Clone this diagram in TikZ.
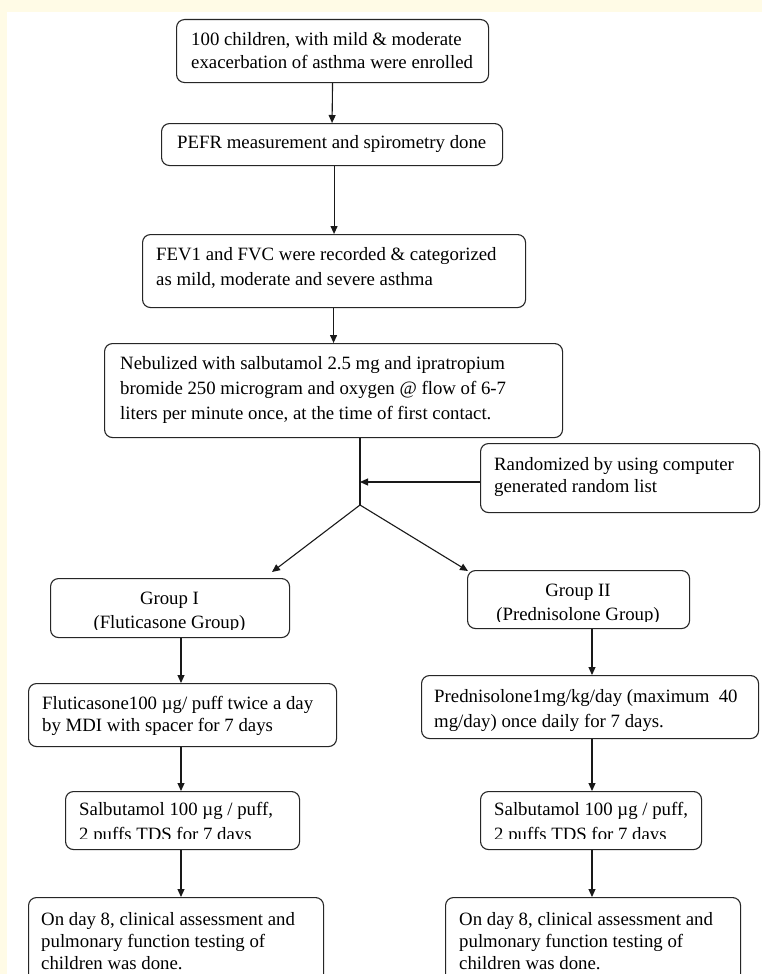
\documentclass[tikz,border=0pt]{standalone}
\usepackage{fontspec}
\setmainfont{Liberation Serif}
\usetikzlibrary{arrows.meta}
\definecolor{cream}{HTML}{FFFBE6}
\newcommand\fsz[1]{\fontsize{18.8pt}{#1pt}\selectfont}
\begin{document}
\begin{tikzpicture}[x=1pt,y=-1pt,
  boxst/.style={draw=black!85, line width=1.1pt, rounded corners=8pt, inner sep=0pt, anchor=north west},
  txt/.style={inner sep=0pt, align=left, anchor=west, text=black},
  ctxt/.style={inner sep=0pt, align=center, anchor=center, text=black},
  conn/.style={line width=1.1pt, draw=black!90, -{Triangle[length=8pt,width=7pt]}},
  plainln/.style={line width=1.1pt, draw=black!90}]
% background
\fill[cream] (0,0) rectangle (762,974);
\fill[white] (7,12) rectangle (762,974);
\useasboundingbox (0,0) rectangle (762,974);

% boxes
\node[boxst, minimum width=312pt, minimum height=63pt] (b1) at (176,19) {};
\node[boxst, minimum width=341pt, minimum height=42pt] (b2) at (161,123) {};
\node[boxst, minimum width=383pt, minimum height=73pt] (b3) at (142,234) {};
\node[boxst, minimum width=458pt, minimum height=94pt] (b4) at (104,343) {};
\node[boxst, minimum width=279pt, minimum height=69pt] (b5) at (480,443) {};
\node[boxst, minimum width=239pt, minimum height=59pt] (g1) at (50,578) {};
\node[boxst, minimum width=222pt, minimum height=58pt] (g2) at (467,570) {};
\node[boxst, minimum width=308pt, minimum height=63pt] (f1) at (28,683) {};
\node[boxst, minimum width=337pt, minimum height=63pt] (p1) at (421,675) {};
\node[boxst, minimum width=234pt, minimum height=58pt] (s1) at (65,791) {};
\node[boxst, minimum width=221pt, minimum height=58pt] (s2) at (480,791) {};
\node[boxst, minimum width=295pt, minimum height=86pt] (e1) at (28,897) {};
\node[boxst, minimum width=295pt, minimum height=86pt] (e2) at (445,897) {};

% texts
\node[txt, font=\fsz{23}] (b1t) at (191,51) {100 children, with mild \& moderate\\exacerbation of asthma were enrolled};
\node[txt, font=\fsz{25}] (b2t) at (177,144) {PEFR measurement and spirometry done};
\node[txt, font=\fsz{25}] (b3t) at (156,268) {FEV1 and FVC were recorded \& categorized\\as mild, moderate and severe asthma};
\node[txt, font=\fsz{25}] (b4t) at (120,390) {Nebulized with salbutamol 2.5 mg and ipratropium\\bromide 250 microgram and oxygen @ flow of 6-7\\liters per minute once, at the time of first contact.};
\node[txt, font=\fsz{22}] (b5t) at (494,477) {Randomized by using computer\\generated random list};
\begin{scope}
  \clip (51,579) rectangle (288,629);
  \node[ctxt, font=\fsz{24}] (g1t) at (169.5,612) {Group I\\(Fluticasone Group)};
\end{scope}
\begin{scope}
  \clip (468,571) rectangle (688,621);
  \node[ctxt, font=\fsz{24}] (g2t) at (578,604) {Group II\\(Prednisolone Group)};
\end{scope}
\node[txt, font=\fsz{22}] (f1t) at (42,716) {Fluticasone100 µg/ puff twice a day\\by MDI with spacer for 7 days};
\node[txt, font=\fsz{25}] (p1t) at (434,710) {Prednisolone1mg/kg/day (maximum\ \ 40\\mg/day) once daily for 7 days.};
\begin{scope}
  \clip (66,792) rectangle (298,838);
  \node[txt, font=\fsz{25}] (s1t) at (79,823) {Salbutamol 100 µg / puff,\\2 puffs TDS for 7 days};
\end{scope}
\begin{scope}
  \clip (481,792) rectangle (700,838);
  \node[txt, font=\fsz{25}] (s2t) at (494,823) {Salbutamol 100 µg / puff,\\2 puffs TDS for 7 days};
\end{scope}
\node[txt, font=\fsz{22}] (e1t) at (41,941) {On day 8, clinical assessment and\\pulmonary function testing of\\children was done.};
\node[txt, font=\fsz{22}] (e2t) at (459,941) {On day 8, clinical assessment and\\pulmonary function testing of\\children was done.};

% helper coordinates
\coordinate (split) at (360,505);
\coordinate (rj) at (360,482);
\coordinate (g1a) at (272,572);
\coordinate (g2a) at (468,571);
\coordinate (cl) at (181,0);
\coordinate (cr) at (592,0);

% connectors
\draw[conn] (b1.south) -- (b2.north);
\draw[conn] (b2.south -| b3.north) -- (b3.north);
\draw[conn] (b3.south -| b4.north) -- (b4.north);
\draw[plainln] (b4.south -| split) -- (split);
\draw[conn] (b5.west |- rj) -- (rj);
\draw[conn] (split) -- (g1a);
\draw[conn] (split) -- (g2a);
\draw[conn] (g1.south -| cl) -- (f1.north -| cl);
\draw[conn] (g2.south -| cr) -- (p1.north -| cr);
\draw[conn] (f1.south -| cl) -- (s1.north -| cl);
\draw[conn] (p1.south -| cr) -- (s2.north -| cr);
\draw[conn] (s1.south -| cl) -- (e1.north -| cl);
\draw[conn] (s2.south -| cr) -- (e2.north -| cr);
\end{tikzpicture}
\end{document}
